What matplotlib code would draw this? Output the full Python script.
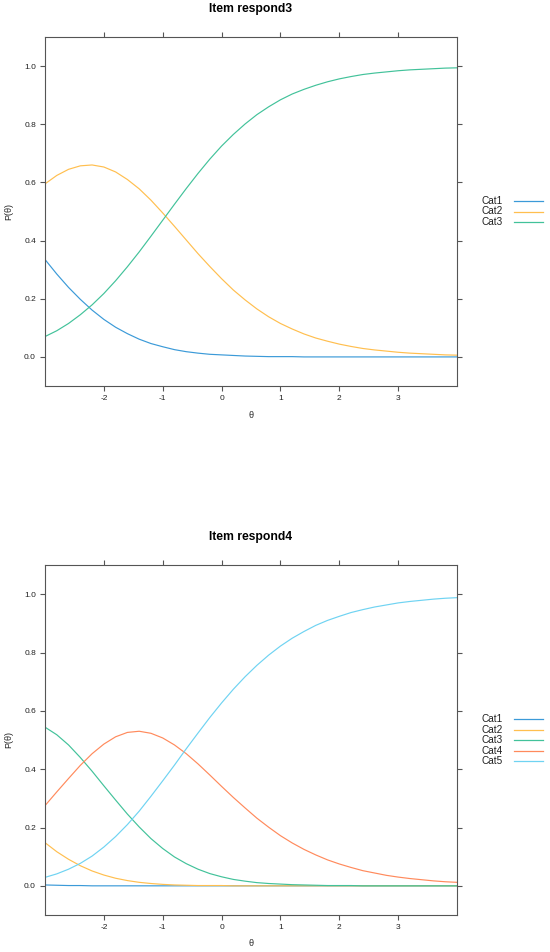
import matplotlib
matplotlib.use("Agg")
import matplotlib.pyplot as plt
from matplotlib.lines import Line2D

plt.rcParams['font.family'] = ['Liberation Sans', 'DejaVu Sans']

theta = [-3.0, -2.8, -2.6, -2.4, -2.2, -2.0, -1.8, -1.6, -1.4, -1.2, -1.0, -0.8,
         -0.6, -0.4, -0.2, 0.0, 0.2, 0.4, 0.6, 0.8, 1.0, 1.2, 1.4, 1.6, 1.8, 2.0,
         2.2, 2.4, 2.6, 2.8, 3.0, 3.2, 3.4, 3.6, 3.8, 4.0]

# Item respond3
r3_cat1 = [0.335, 0.285, 0.239, 0.198, 0.161, 0.129, 0.102, 0.080, 0.061, 0.046, 0.035, 0.025,
           0.018, 0.013, 0.009, 0.007, 0.005, 0.003, 0.002, 0.001, 0.001, 0.001, 0.000, 0.000,
           0.000, 0.000, 0.000, 0.000, 0.000, 0.000, 0.000, 0.000, 0.000, 0.000, 0.000, 0.000]
r3_cat2 = [0.595, 0.624, 0.645, 0.657, 0.660, 0.653, 0.636, 0.610, 0.578, 0.539, 0.495, 0.449,
           0.402, 0.355, 0.311, 0.269, 0.230, 0.196, 0.165, 0.138, 0.115, 0.096, 0.079, 0.065,
           0.054, 0.044, 0.036, 0.029, 0.024, 0.020, 0.016, 0.013, 0.011, 0.009, 0.007, 0.006]
r3_cat3 = [0.070, 0.090, 0.115, 0.145, 0.179, 0.218, 0.262, 0.310, 0.361, 0.415, 0.470, 0.525,
           0.579, 0.631, 0.680, 0.725, 0.765, 0.801, 0.833, 0.860, 0.884, 0.904, 0.920, 0.934,
           0.946, 0.956, 0.964, 0.971, 0.976, 0.980, 0.984, 0.987, 0.989, 0.991, 0.993, 0.994]

# Item respond4
r4_cat1 = [0.003, 0.002, 0.001, 0.001, 0.000, 0.000, 0.000, 0.000, 0.000, 0.000, 0.000, 0.000,
           0.000, 0.000, 0.000, 0.000, 0.000, 0.000, 0.000, 0.000, 0.000, 0.000, 0.000, 0.000,
           0.000, 0.000, 0.000, 0.000, 0.000, 0.000, 0.000, 0.000, 0.000, 0.000, 0.000, 0.000]
r4_cat2 = [0.148, 0.117, 0.091, 0.069, 0.051, 0.037, 0.026, 0.018, 0.012, 0.008, 0.005, 0.003,
           0.002, 0.001, 0.001, 0.001, 0.000, 0.000, 0.000, 0.000, 0.000, 0.000, 0.000, 0.000,
           0.000, 0.000, 0.000, 0.000, 0.000, 0.000, 0.000, 0.000, 0.000, 0.000, 0.000, 0.000]
r4_cat3 = [0.544, 0.518, 0.483, 0.440, 0.393, 0.343, 0.294, 0.246, 0.202, 0.162, 0.128, 0.099,
           0.076, 0.057, 0.042, 0.031, 0.022, 0.016, 0.011, 0.008, 0.006, 0.004, 0.003, 0.002,
           0.001, 0.001, 0.001, 0.000, 0.000, 0.000, 0.000, 0.000, 0.000, 0.000, 0.000, 0.000]
r4_cat4 = [0.275, 0.322, 0.368, 0.413, 0.453, 0.486, 0.511, 0.526, 0.530, 0.523, 0.507, 0.483,
           0.453, 0.418, 0.380, 0.341, 0.303, 0.267, 0.232, 0.201, 0.172, 0.147, 0.125, 0.106,
           0.089, 0.075, 0.063, 0.052, 0.044, 0.036, 0.030, 0.025, 0.021, 0.017, 0.014, 0.012]
r4_cat5 = [0.029, 0.041, 0.057, 0.077, 0.102, 0.133, 0.169, 0.210, 0.256, 0.307, 0.360, 0.414,
           0.470, 0.524, 0.577, 0.627, 0.674, 0.717, 0.756, 0.791, 0.822, 0.849, 0.872, 0.893,
           0.910, 0.924, 0.937, 0.947, 0.956, 0.963, 0.970, 0.975, 0.979, 0.983, 0.986, 0.988]

x_ticks = [-2, -1, 0, 1, 2, 3]
y_ticks = [0.0, 0.2, 0.4, 0.6, 0.8, 1.0]
y_ticklabels = ["0.0", "0.2", "0.4", "0.6", "0.8", "1.0"]

colors = ['#3B9AD8', '#FFBF4F', '#42C29A', '#FF8A5C', '#6FD3F2']

W, H = 550, 952
fig = plt.figure(figsize=(W / 100, H / 100), dpi=100)

panels = [
    ("Item respond3", [r3_cat1, r3_cat2, r3_cat3], 37, 386, 9, 416,
     [201, 211.5, 222]),
    ("Item respond4", [r4_cat1, r4_cat2, r4_cat3, r4_cat4, r4_cat5], 565, 915, 537, 944,
     [719.3, 729.7, 740.2, 750.7, 761.2]),
]

frame_col = '#555555'
text_col = '#222222'

for title, series, top, bottom, title_y, xlab_y, legend_ys in panels:
    left, right = 45, 457
    ax = fig.add_axes([left / W, 1 - bottom / H, (right - left) / W, (bottom - top) / H])
    for k, vals in enumerate(series):
        ax.plot(theta, vals, color=colors[k], lw=0.85, solid_capstyle='butt')
    ax.set_xlim(-3, 4)
    ax.set_ylim(-0.1, 1.1)
    ax.set_xticks(x_ticks)
    ax.set_xticklabels([str(t) for t in x_ticks])
    ax.set_yticks(y_ticks)
    ax.set_yticklabels(y_ticklabels)
    ax.tick_params(axis='both', which='both', direction='out', length=3.5, width=0.8,
                   color=frame_col, labelsize=6.0, labelcolor=text_col, pad=3,
                   top=True, right=True, labeltop=False, labelright=False)
    for sp in ax.spines.values():
        sp.set_color(frame_col)
        sp.set_linewidth(0.8)

    cy = (top + bottom) / 2
    fig.text(251 / W, 1 - title_y / H, title, ha='center', va='center',
             fontsize=8.7, fontweight='bold', color='black')
    fig.text(251 / W, 1 - xlab_y / H, "θ", ha='center', va='center', fontsize=6.5, color=text_col)
    fig.text(9 / W, 1 - cy / H, "P(θ)", ha='center', va='center', rotation=90,
             fontsize=6.5, color=text_col)

    for k in range(len(series)):
        yy = 1 - legend_ys[k] / H
        fig.text(482 / W, yy, f"Cat{k + 1}", ha='left', va='center', fontsize=7.2, color=text_col)
        fig.add_artist(Line2D([514 / W, 543 / W], [yy, yy], transform=fig.transFigure,
                              color=colors[k], lw=0.9))

fig.savefig("out.png", dpi=100)
